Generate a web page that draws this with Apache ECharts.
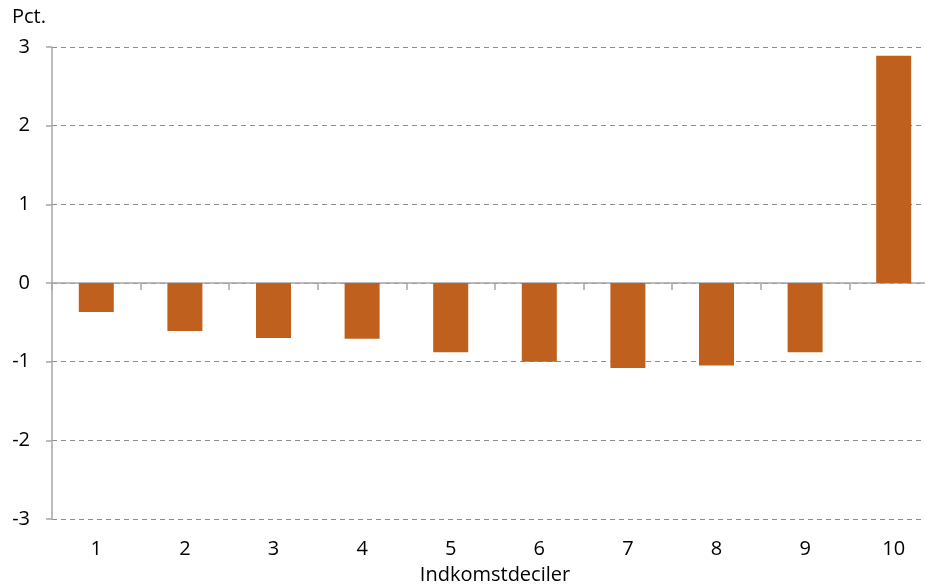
<!DOCTYPE html>
<html>
<head>
<meta charset="utf-8">
<script src="https://cdn.jsdelivr.net/npm/echarts@6/dist/echarts.min.js"></script>
<style>
  html, body { margin: 0; padding: 0; background: #fff; }
  #chart { width: 925px; height: 585px; }
</style>
</head>
<body>
<div id="chart"></div>
<script>
// indkomstdeciler
const deciles = ['1', '2', '3', '4', '5', '6', '7', '8', '9', '10'];
// aendring i pct.
const values = [-0.37, -0.61, -0.70, -0.71, -0.88, -1.00, -1.08, -1.05, -0.88, 2.89];

const font = 'Open Sans, Liberation Sans, sans-serif';
const axisGray = '#a6a6a6';

let myChart = echarts.init(document.getElementById('chart'));
let option = {
  backgroundColor: '#ffffff',
  animation: false,
  grid: { left: 52, right: -13, top: 47, bottom: 66, outerBoundsMode: 'none' },
  graphic: [
    {
      type: 'text', left: 12, top: 7,
      style: { text: 'Pct.', font: '20px ' + font, fill: '#000' }
    }
  ],
  xAxis: [
    {
      // axis line at zero with ticks
      type: 'category',
      data: deciles,
      axisLine: { onZero: true, lineStyle: { color: axisGray, width: 1.5 } },
      axisTick: { show: true, length: 7, lineStyle: { color: axisGray, width: 1.5 } },
      axisLabel: { show: false }
    },
    {
      // labels at the bottom of the plot
      type: 'category',
      data: deciles,
      position: 'bottom',
      axisLine: { show: false, onZero: false },
      axisTick: { show: false },
      axisLabel: { color: '#000', fontFamily: font, fontSize: 20, margin: 20 },
      name: 'Indkomstdeciler',
      nameLocation: 'middle',
      nameGap: 46,
      nameTextStyle: { color: '#000', fontFamily: font, fontSize: 20 }
    }
  ],
  yAxis: {
    type: 'value',
    min: -3,
    max: 3,
    interval: 1,
    axisLine: { show: true, lineStyle: { color: axisGray, width: 1.5 } },
    axisTick: { show: true, length: 6, lineStyle: { color: axisGray, width: 1.5 } },
    axisLabel: { color: '#000', fontFamily: font, fontSize: 20, margin: 22 },
    splitLine: { show: true, lineStyle: { color: '#8c8c8c', type: [5, 4], width: 1 } }
  },
  series: [
    {
      type: 'bar',
      data: values,
      barWidth: 35,
      itemStyle: { color: '#c0601e' }
    }
  ]
};
myChart.setOption(option);
</script>
</body>
</html>
